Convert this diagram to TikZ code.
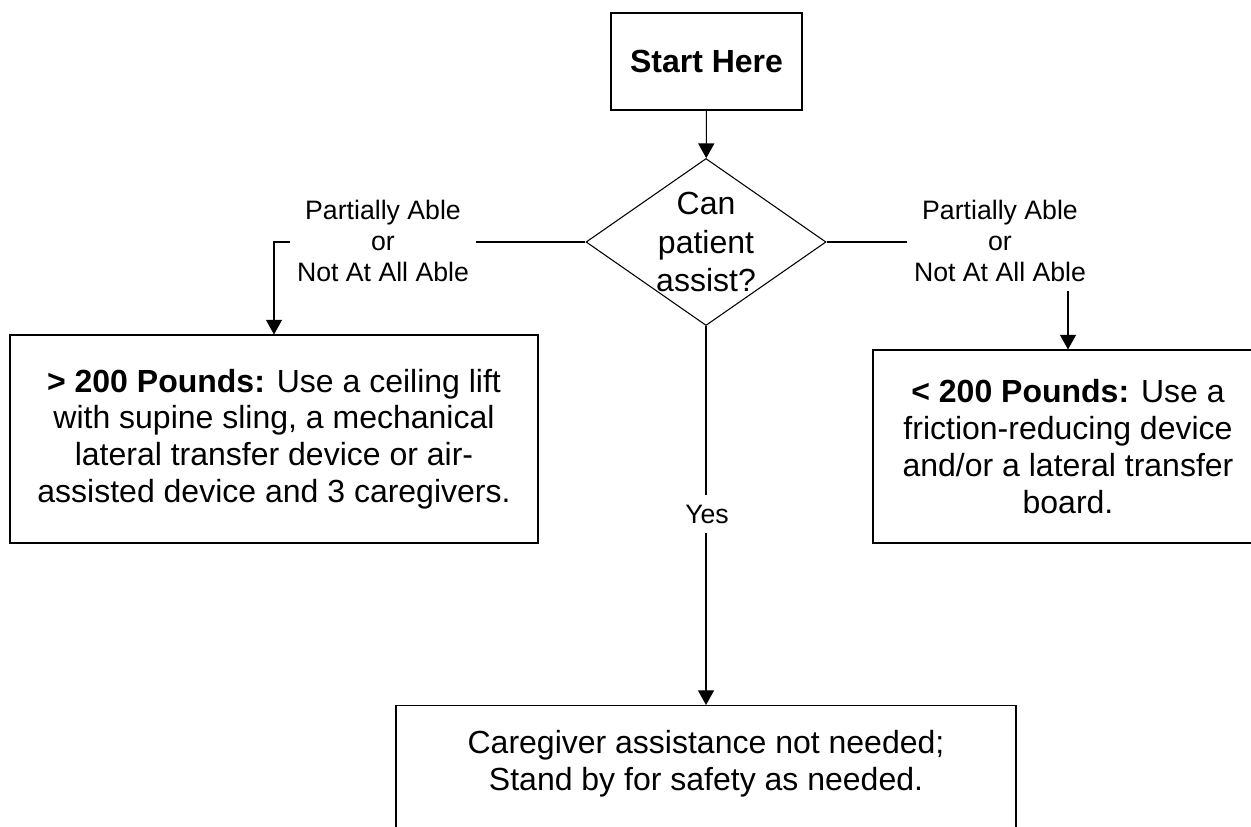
\documentclass[tikz,border=0pt]{standalone}
\usepackage{fontspec}
\setmainfont{Liberation Sans}
\usetikzlibrary{arrows.meta,shapes.geometric}

\begin{document}
\begin{tikzpicture}[x=0.75pt,y=-0.75pt,
  line width=0.8pt,
  box/.style={draw, inner sep=0pt, align=center, font=\fontsize{24}{27.6}\selectfont},
  boxtext/.style={align=center, inner sep=0pt, font=\fontsize{24}{27.6}\selectfont},
  decision/.style={draw, diamond, inner sep=0pt, minimum width=180pt, minimum height=125.25pt},
  tag/.style={fill=white, align=center, inner xsep=5pt, inner ysep=7pt, font=\fontsize{20}{23.25}\selectfont},
  flow/.style={-{Triangle[width=12pt,length=11pt]}}
]
\useasboundingbox (0,0) rectangle (1251,826);
\clip (0,0) rectangle (1251,826);

% start and decision
\node[box, minimum width=143.25pt, minimum height=72.75pt] (start) at (706.5,61.5) {\textbf{Start Here}};
\node[decision] (dia) at (706,242) {};
\node[boxtext, font=\fontsize{24}{29}\selectfont] (ask) at (706,242) {Can\\patient\\assist?};

% outcome boxes
\node[box, minimum width=396pt, minimum height=156pt] (heavy) at (274,439)
  {\textbf{> 200 Pounds:} Use a ceiling lift\\with supine sling, a mechanical\\lateral transfer device or air-\\assisted device and 3 caregivers.};
\node[box, minimum width=292.5pt, minimum height=144.75pt] (light) at (1068,446.5)
  {\textbf{< 200 Pounds:} Use a\\friction-reducing device\\and/or a lateral transfer\\board.};
\node[box, minimum width=465pt, minimum height=135pt, anchor=north] (able) at (706,705) {};
\node[boxtext] (abletext) at (706,763.5) {Caregiver assistance not needed;\\Stand by for safety as needed.};

% connectors
\draw[flow] (start) -- (dia);
\draw[flow] (dia.west) -| (heavy.north);
\draw[flow] (dia.east) -| (light.north);
\draw[flow] (dia.south) -- (able.north);

% connector labels
\node[tag] (leftlabel) at (383,241) {Partially Able\\or\\Not At All Able};
\node[tag] (rightlabel) at (1000,241) {Partially Able\\or\\Not At All Able};
\node[tag] (yeslabel) at (707,514) {Yes};
\end{tikzpicture}
\end{document}
